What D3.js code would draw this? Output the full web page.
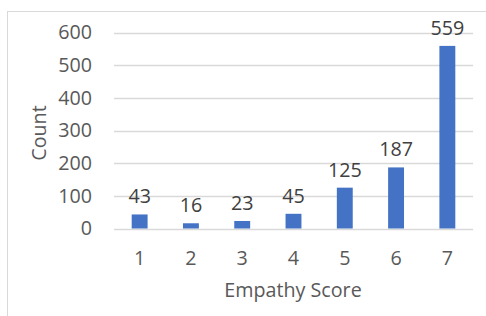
<!DOCTYPE html>
<html>
<head>
<meta charset="utf-8">
<script src="https://cdn.jsdelivr.net/npm/d3@7"></script>
<style>
  body { margin: 0; background: #fff; }
  svg text { font-family: "Open Sans", sans-serif; fill: #595959; font-size: 19.7px; }
</style>
</head>
<body>
<div id="chart"></div>
<script>
let scores = ["1","2","3","4","5","6","7"];
let counts = [43,16,23,45,125,187,559];
let yTicks = [0,100,200,300,400,500,600];

let svg = d3.select("#chart").append("svg")
    .attr("width", 486)
    .attr("height", 316);

// chart frame
svg.append("rect")
    .attr("x", 7.5)
    .attr("y", 11.5)
    .attr("width", 490)
    .attr("height", 320)
    .attr("fill", "none")
    .attr("stroke", "#d9d9d9");

let x = d3.scaleBand()
    .domain(scores)
    .range([114, 473])
    .paddingInner(0.69)
    .paddingOuter(0.345);

let y = d3.scaleLinear()
    .domain([0, 600])
    .range([228.5, 32.5]);

// gridlines
svg.append("g")
    .selectAll("line")
    .data(yTicks)
    .join("line")
    .attr("x1", 114)
    .attr("x2", 473)
    .attr("y1", d => Math.round(y(d)) + 0.5)
    .attr("y2", d => Math.round(y(d)) + 0.5)
    .attr("stroke", "#d9d9d9")
    .attr("stroke-width", 1.3);

// y tick labels
svg.append("g")
    .selectAll("text")
    .data(yTicks)
    .join("text")
    .attr("x", 92)
    .attr("y", d => y(d))
    .attr("dy", "0.35em")
    .attr("text-anchor", "end")
    .text(d => d);

// bars
svg.append("g")
    .selectAll("rect")
    .data(counts)
    .join("rect")
    .attr("x", (d, i) => x(scores[i]))
    .attr("y", d => y(d))
    .attr("width", x.bandwidth())
    .attr("height", d => y(0) - y(d))
    .attr("fill", "#4472c4");

// data labels
svg.append("g")
    .selectAll("text")
    .data(counts)
    .join("text")
    .attr("x", (d, i) => x(scores[i]) + x.bandwidth() / 2)
    .attr("y", d => y(d) - 11)
    .attr("text-anchor", "middle")
    .style("fill", "#404040")
    .text(d => d);

// x tick labels
svg.append("g")
    .selectAll("text")
    .data(scores)
    .join("text")
    .attr("x", d => x(d) + x.bandwidth() / 2)
    .attr("y", 265)
    .attr("text-anchor", "middle")
    .text(d => d);

// axis titles
svg.append("text")
    .attr("x", 293)
    .attr("y", 297)
    .attr("text-anchor", "middle")
    .text("Empathy Score");

svg.append("text")
    .attr("transform", "translate(46,133) rotate(-90)")
    .attr("text-anchor", "middle")
    .text("Count");
</script>
</body>
</html>
